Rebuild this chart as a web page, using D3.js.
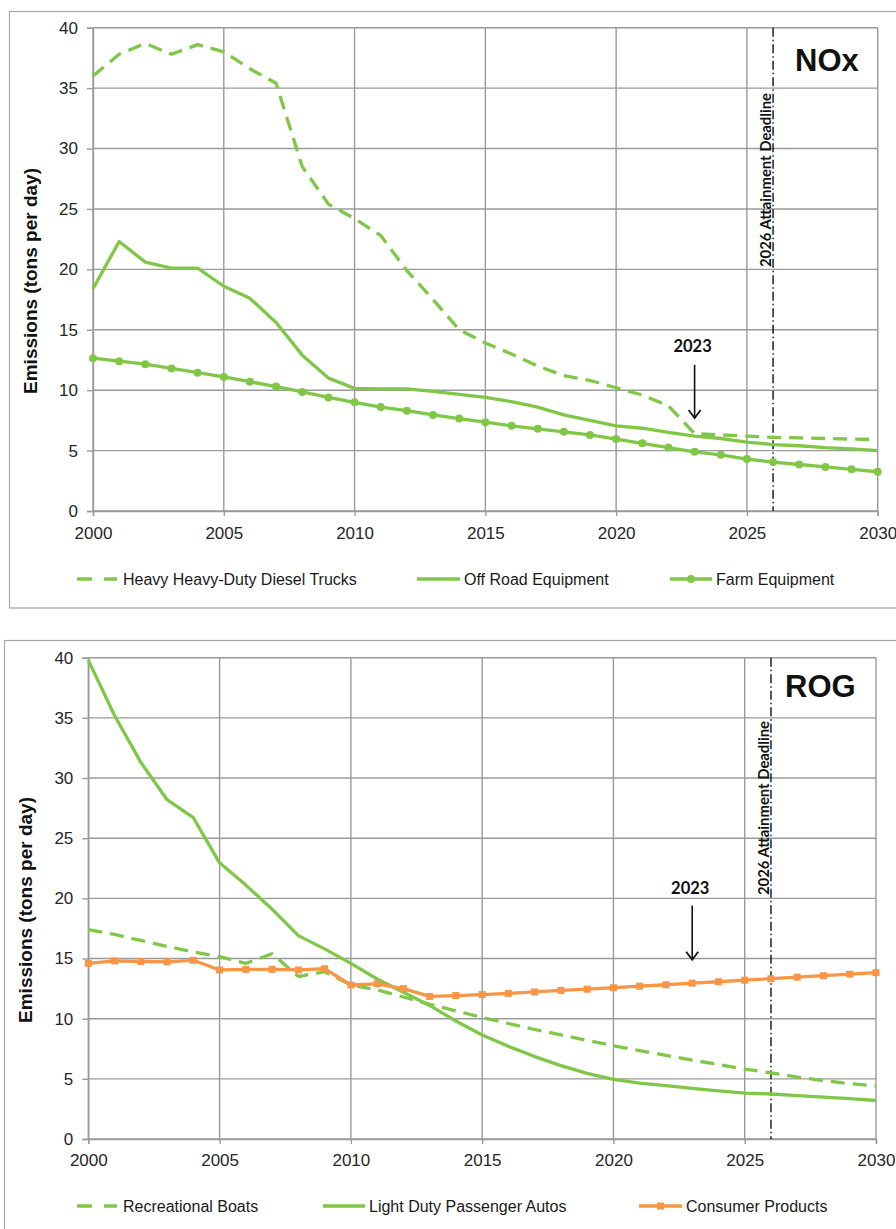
<!DOCTYPE html>
<html>
<head>
<meta charset="utf-8">
<script src="https://cdn.jsdelivr.net/npm/d3@7"></script>
<style>
  body { margin: 0; background: #fff; }
  svg { display: block; }
  text { font-family: "Liberation Sans", Arial, sans-serif; }
</style>
</head>
<body>
<svg id="chart" width="896" height="1229"></svg>
<script>
// ---- Data (tons per day) ----
const years = d3.range(2000, 2031);
const yearTicks = [2000, 2005, 2010, 2015, 2020, 2025, 2030];
const valueTicks = [0, 5, 10, 15, 20, 25, 30, 35, 40];

const noxHeavyTrucks = [36.0, 37.8, 38.7, 37.8, 38.6, 38.0, 36.6, 35.4, 28.5, 25.4,
  24.2, 22.8, 19.9, 17.5, 15.0, 13.9, 13.0, 12.0, 11.2, 10.8,
  10.2, 9.6, 8.7, 6.4, 6.3, 6.2, 6.1, 6.05, 6.0, 5.95, 5.9];
const noxOffRoad = [18.4, 22.3, 20.6, 20.1, 20.1, 18.6, 17.6, 15.6, 12.9, 11.0,
  10.15, 10.1, 10.1, 9.9, 9.65, 9.4, 9.05, 8.6, 7.95, 7.5,
  7.05, 6.85, 6.5, 6.2, 6.0, 5.7, 5.5, 5.4, 5.25, 5.15, 5.0];
const noxFarm = [12.65, 12.4, 12.15, 11.8, 11.45, 11.1, 10.7, 10.3, 9.85, 9.4,
  9.0, 8.6, 8.3, 7.95, 7.65, 7.35, 7.05, 6.8, 6.55, 6.3,
  5.95, 5.6, 5.25, 4.9, 4.65, 4.3, 4.05, 3.85, 3.65, 3.45, 3.25];

const rogBoats = [17.4, 17.0, 16.5, 16.0, 15.55, 15.15, 14.6, 15.4, 13.5, 13.9,
  12.8, 12.4, 11.8, 11.2, 10.65, 10.1, 9.6, 9.1, 8.65, 8.2,
  7.75, 7.35, 6.95, 6.55, 6.2, 5.8, 5.5, 5.15, 4.85, 4.6, 4.4];
const rogAutos = [39.8, 35.2, 31.3, 28.2, 26.7, 22.95, 21.1, 19.1, 16.9, 15.8,
  14.6, 13.3, 12.2, 11.1, 9.8, 8.65, 7.7, 6.85, 6.1, 5.45,
  4.95, 4.65, 4.43, 4.2, 4.0, 3.82, 3.74, 3.6, 3.48, 3.35, 3.2];
const rogConsumer = [14.6, 14.8, 14.75, 14.72, 14.85, 14.05, 14.1, 14.1, 14.05, 14.15,
  12.8, 12.9, 12.5, 11.85, 11.92, 12.0, 12.1, 12.22, 12.35, 12.45,
  12.57, 12.7, 12.82, 12.95, 13.07, 13.2, 13.32, 13.45, 13.57, 13.7, 13.82];

const noxLabels = ["Heavy Heavy-Duty Diesel Trucks", "Off Road Equipment", "Farm Equipment"];
const rogLabels = ["Recreational Boats", "Light Duty Passenger Autos", "Consumer Products"];

const deadlineYear = 2026;
const currentYear = 2023;

// ---- Styles ----
const GREEN = "#80c748";
const ORANGE = "#f79646";
const GRID = "#9a9a9a";
const DASH = "14,8";

const svg = d3.select("#chart");

function drawPanel(cfg) {
  const g = svg.append("g");

  // outer frame of the panel
  g.append("rect")
    .attr("x", cfg.frame[0]).attr("y", cfg.frame[1])
    .attr("width", cfg.frame[2]).attr("height", cfg.frame[3])
    .attr("fill", "none").attr("stroke", "#a6a6a6").attr("stroke-width", 1.2);

  const x = d3.scaleLinear().domain([2000, 2030]).range([cfg.left, cfg.right]);
  const y = d3.scaleLinear().domain([0, 40]).range([cfg.bottom, cfg.top]);

  // gridlines
  g.append("g").selectAll("line").data(valueTicks).join("line")
    .attr("x1", x(2000)).attr("x2", x(2030))
    .attr("y1", d => y(d)).attr("y2", d => y(d))
    .attr("stroke", GRID).attr("stroke-width", 1.4);
  g.append("g").selectAll("line").data(yearTicks).join("line")
    .attr("x1", d => x(d)).attr("x2", d => x(d))
    .attr("y1", y(0)).attr("y2", y(40))
    .attr("stroke", GRID).attr("stroke-width", 1.4);

  // axes
  const yAxis = g.append("g").attr("transform", `translate(${x(2000)},0)`)
    .call(d3.axisLeft(y).tickValues(valueTicks).tickSize(6).tickPadding(9));
  const xAxis = g.append("g").attr("transform", `translate(0,${y(0)})`)
    .call(d3.axisBottom(x).tickValues(yearTicks).tickFormat(d3.format("d"))
      .tickSize(5).tickPadding(cfg.xPad));
  [yAxis, xAxis].forEach(a => {
    a.select(".domain").attr("stroke", GRID).attr("stroke-width", 1.4);
    a.selectAll(".tick line").attr("stroke", GRID).attr("stroke-width", 1.4);
    a.selectAll(".tick text").attr("fill", "#262626")
      .style("font-size", "17px").style("font-family", "'Liberation Sans', Arial, sans-serif");
  });

  // y axis title
  g.append("text")
    .attr("transform", `translate(${cfg.titleX},${cfg.titleY}) rotate(-90)`)
    .attr("text-anchor", "middle")
    .style("font-size", "19px").style("font-weight", "bold")
    .attr("fill", "#111")
    .text("Emissions (tons per day)");

  // deadline marker
  g.append("line")
    .attr("x1", x(deadlineYear)).attr("x2", x(deadlineYear))
    .attr("y1", y(40)).attr("y2", y(0))
    .attr("stroke", "#111").attr("stroke-width", 1.4)
    .attr("stroke-dasharray", "9,3,1.5,3");
  g.append("text")
    .attr("transform", `translate(${x(deadlineYear) - 2},${cfg.deadlineTextY}) rotate(-90)`)
    .attr("text-anchor", "start")
    .attr("textLength", 174).attr("lengthAdjust", "spacingAndGlyphs")
    .style("font-family", "Lato, 'Open Sans', sans-serif")
    .style("font-size", "14.5px").style("font-weight", "bold")
    .attr("fill", "#111")
    .text(`${deadlineYear} Attainment Deadline`);

  // pollutant name
  g.append("text")
    .attr("x", cfg.nameX).attr("y", cfg.nameY)
    .style("font-size", "31px").style("font-weight", "bold")
    .attr("fill", "#111")
    .text(cfg.name);

  // series
  const line = d3.line().x((d, i) => x(years[i])).y(d => y(d));
  cfg.series.forEach(s => {
    g.append("path").datum(s.values)
      .attr("d", line)
      .attr("fill", "none")
      .attr("stroke", s.color).attr("stroke-width", 3.3)
      .attr("stroke-linejoin", "round")
      .attr("stroke-dasharray", s.dash ? DASH : null);
    if (s.marker === "circle") {
      g.append("g").selectAll("circle").data(s.values).join("circle")
        .attr("cx", (d, i) => x(years[i])).attr("cy", d => y(d))
        .attr("r", 4).attr("fill", s.color);
    } else if (s.marker === "square") {
      g.append("g").selectAll("rect").data(s.values).join("rect")
        .attr("x", (d, i) => x(years[i]) - 3.5).attr("y", d => y(d) - 3.5)
        .attr("width", 7).attr("height", 7).attr("fill", s.color);
    }
  });

  // current-year arrow and label
  const ax = x(currentYear);
  g.append("text")
    .attr("x", ax - 2).attr("y", y(cfg.arrow[2]))
    .attr("text-anchor", "middle")
    .style("font-family", "Lato, 'Open Sans', sans-serif")
    .style("font-size", "16.5px").style("font-weight", "bold")
    .attr("fill", "#111")
    .text(currentYear);
  const ay1 = y(cfg.arrow[0]), ay2 = y(cfg.arrow[1]);
  g.append("line").attr("x1", ax).attr("x2", ax).attr("y1", ay1).attr("y2", ay2)
    .attr("stroke", "#111").attr("stroke-width", 1.6);
  g.append("path")
    .attr("d", `M${ax - 6},${ay2 - 8} L${ax},${ay2} L${ax + 6},${ay2 - 8}`)
    .attr("fill", "none").attr("stroke", "#111").attr("stroke-width", 1.8);

  // legend
  cfg.series.forEach((s, i) => {
    const lg = g.append("g").attr("transform", `translate(0,${cfg.legendY})`);
    const [sx0, sx1, tx] = cfg.legendPos[i];
    lg.append("line").attr("x1", sx0).attr("x2", sx1).attr("y1", 0).attr("y2", 0)
      .attr("stroke", s.color).attr("stroke-width", 3.3)
      .attr("stroke-dasharray", s.dash ? "15,12" : null);
    const mx = (sx0 + sx1) / 2;
    if (s.marker === "circle") {
      lg.append("circle").attr("cx", mx).attr("cy", 0).attr("r", 4).attr("fill", s.color);
    } else if (s.marker === "square") {
      lg.append("rect").attr("x", mx - 3.5).attr("y", -3.5).attr("width", 7).attr("height", 7)
        .attr("fill", s.color);
    }
    lg.append("text").attr("x", tx).attr("y", 0).attr("dy", "0.35em")
      .style("font-size", "16px").attr("fill", "#1a1a1a")
      .text(s.label);
  });
}

drawPanel({
  frame: [9.5, 11.5, 900, 596.5],
  left: 93, right: 877.7, top: 27.7, bottom: 511,
  xPad: 10.5,
  titleX: 37, titleY: 281,
  deadlineTextY: 267,
  name: "NOx", nameX: 795, nameY: 71,
  arrow: [12.1, 7.7, 13.2],
  legendY: 579,
  legendPos: [[77, 117, 123], [417, 460, 464], [670, 712, 716]],
  series: [
    { label: noxLabels[0], values: noxHeavyTrucks, color: GREEN, dash: true },
    { label: noxLabels[1], values: noxOffRoad, color: GREEN },
    { label: noxLabels[2], values: noxFarm, color: GREEN, marker: "circle" }
  ]
});

drawPanel({
  frame: [4.5, 640.5, 900, 600],
  left: 88.3, right: 876, top: 657.7, bottom: 1139,
  xPad: 10,
  titleX: 32, titleY: 910,
  deadlineTextY: 895,
  name: "ROG", nameX: 785, nameY: 697,
  arrow: [19.4, 14.9, 20.4],
  legendY: 1206,
  legendPos: [[77, 117, 123], [323, 365, 369], [639, 682, 686]],
  series: [
    { label: rogLabels[0], values: rogBoats, color: GREEN, dash: true },
    { label: rogLabels[1], values: rogAutos, color: GREEN },
    { label: rogLabels[2], values: rogConsumer, color: ORANGE, marker: "square" }
  ]
});
</script>
</body>
</html>
